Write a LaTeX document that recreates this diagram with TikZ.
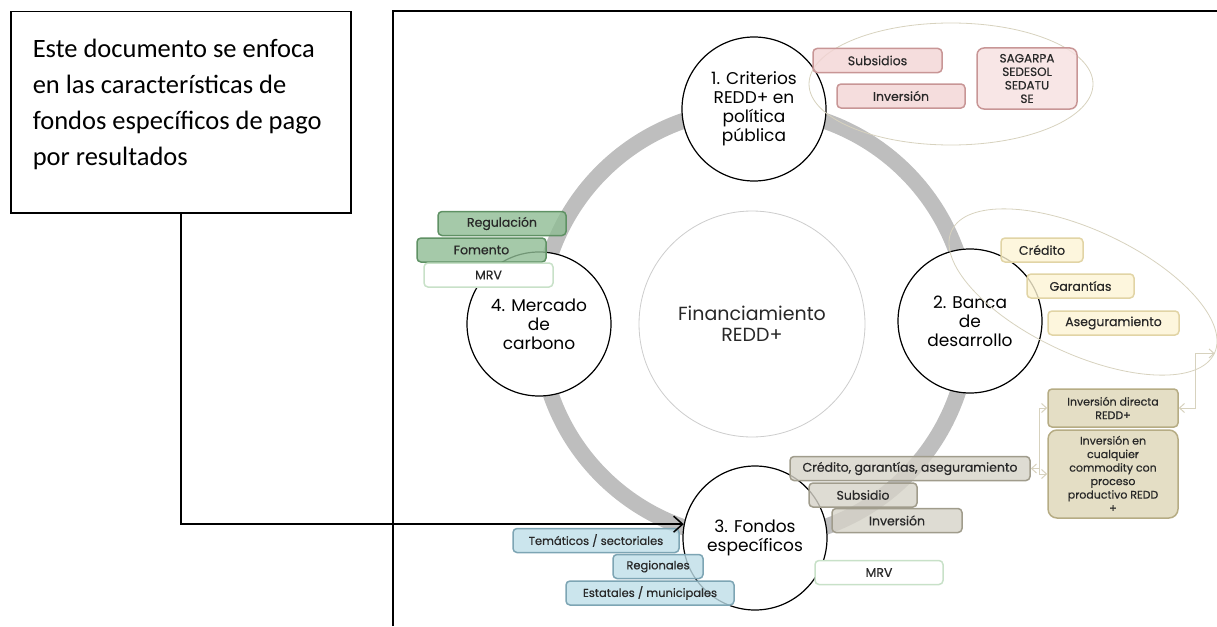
\documentclass[tikz,border=0pt]{standalone}
\usepackage{fontspec}
\setmainfont{Carlito}
\newfontfamily\gfont{Poppins}
\newfontfamily\gboxfont{Poppins}[FakeBold=0.5]
\usetikzlibrary{shapes.geometric,arrows.meta}
\definecolor{ringgray}{RGB}{190,190,190}
\definecolor{midgray}{RGB}{205,205,205}
\definecolor{ovalline}{RGB}{215,210,190}
\definecolor{tagtext}{RGB}{40,40,40}
\definecolor{pinkfill}{RGB}{242,212,212}
\definecolor{pinkline}{RGB}{200,150,150}
\definecolor{pinklite}{RGB}{246,224,224}
\definecolor{yelfill}{RGB}{253,244,212}
\definecolor{yelline}{RGB}{225,212,165}
\definecolor{khakifill}{RGB}{221,214,182}
\definecolor{khakiline}{RGB}{182,172,132}
\definecolor{grayfill}{RGB}{214,211,200}
\definecolor{grayline}{RGB}{160,156,140}
\definecolor{bluefill}{RGB}{190,222,232}
\definecolor{blueline}{RGB}{125,165,180}
\definecolor{greenfill}{RGB}{143,188,148}
\definecolor{greenline}{RGB}{95,145,100}
\definecolor{mrvline}{RGB}{200,225,200}
\tikzset{
  hub/.style={circle,draw=black,line width=1.2pt,fill=white,minimum size=144pt,
    inner sep=0pt,align=center,font=\gfont\fontsize{17}{19}\selectfont},
  tag/.style={rounded corners=4pt,line width=1.5pt,minimum height=24pt,inner sep=1pt,
    align=center,fill opacity=0.8,text opacity=1,text=tagtext,
    font=\gboxfont\fontsize{12.5}{14}\selectfont},
  pinktag/.style={tag,draw=pinkline,fill=pinkfill},
  yeltag/.style={tag,draw=yelline,fill=yelfill},
  khakitag/.style={tag,draw=khakiline,fill=khakifill,font=\gboxfont\fontsize{11}{13.5}\selectfont},
  graytag/.style={tag,draw=grayline,fill=grayfill},
  bluetag/.style={tag,draw=blueline,fill=bluefill,font=\gboxfont\fontsize{11.5}{14}\selectfont},
  greentag/.style={tag,draw=greenline,fill=greenfill},
  mrvtag/.style={tag,draw=mrvline,fill=white,fill opacity=1},
  oval/.style={ellipse,draw=ovalline,line width=0.8pt},
  conn/.style={draw=ovalline,line width=1pt}
}
\begin{document}
\begin{tikzpicture}[x=1pt,y=-1pt,>={Straight Barb[length=5pt,width=9pt]}]
\useasboundingbox (0,0) rectangle (1217,626);
% frame of the figure
\draw[line width=1.5pt] (393,626) -- (393,11) -- (1217,11);
% ring and the four hubs
\coordinate (ctr) at (754,324);
\draw[line width=16pt,ringgray] (ctr) circle (215pt);
\node[circle,draw=midgray,line width=0.8pt,fill=white,minimum size=226pt,align=center,
  text=tagtext,font=\gfont\fontsize{19}{21}\selectfont] (fin) at (752,324) {Financiamiento\\REDD+};
\node[hub] (crit) at (754,109) {1. Criterios\\REDD+ en\\política\\pública};
\node[hub] (banca) at (970,321) {2. Banca\\de\\desarrollo};
\node[hub] (fondos) at (755,538) {3. Fondos\\específicos};
\node[hub] (merc) at (539,324) {4. Mercado\\de\\carbono};
% ovals
\node[oval,minimum width=284pt,minimum height=122pt] (ovpub) at (951,84) {};
\node[oval,minimum width=290pt,minimum height=124pt,rotate=-25] (ovbank) at (1083,292) {};
% pink boxes
\foreach \n/\x/\y/\w/\t in {subs/877.5/60.5/129/Subsidios, invp/901/96/128/Inversión}
  \node[pinktag,minimum width=\w pt] (\n) at (\x,\y) {\t};
\node[pinktag,fill=pinklite,minimum width=100pt,minimum height=61pt,rounded corners=7pt,
  font=\gboxfont\fontsize{12}{13.5}\selectfont] (secr) at (1027,78.5) {SAGARPA\\SEDESOL\\SEDATU\\SE};
% yellow boxes
\foreach \n/\x/\y/\w/\t in {cred/1042/250/82/Crédito, gar/1080.5/286/107/Garantías,
    aseg/1113.5/323/131/Aseguramiento}
  \node[yeltag,minimum width=\w pt] (\n) at (\x,\y) {\t};
% khaki boxes
\node[khakitag,minimum width=130pt,minimum height=38pt] (dir) at (1113,408) {Inversión directa\\REDD+};
\node[khakitag,minimum width=130pt,minimum height=88pt,rounded corners=9pt] (comm) at (1113,474)
  {Inversión en\\cualquier\\commodity con\\proceso\\productivo REDD\\+};
% gray boxes
\foreach \n/\x/\y/\w/\t in {cga/910/468.5/240/{Crédito, garantías, aseguramiento},
    subf/863/495/108/Subsidio, invf/897/520.5/130/Inversión}
  \node[graytag,minimum width=\w pt] (\n) at (\x,\y) {\t};
\node[mrvtag,minimum width=128pt] (mrvf) at (879,572.5) {MRV};
% blue boxes
\foreach \n/\x/\y/\w/\t in {tema/596/540.5/166/{Temáticos / sectoriales},
    regi/658/566.5/90/Regionales, esta/650/593/168/{Estatales / municipales}}
  \node[bluetag,minimum width=\w pt] (\n) at (\x,\y) {\t};
% green boxes
\foreach \n/\x/\y/\w/\t in {regu/502/223.5/128/Regulación, fome/481.5/250/129/Fomento}
  \node[greentag,minimum width=\w pt] (\n) at (\x,\y) {\t};
\node[mrvtag,minimum width=129pt] (mrvm) at (488.5,275) {MRV};
% links between the boxes
\draw[conn,<->] (dir.east) -- ++(17,0) |- (ovbank.east);
\draw[conn,<-] (cga.east) -- ++(9,0) coordinate (fork);
\draw[conn,->] (fork) |- (dir.west);
\draw[conn,->] (fork) |- (comm.west);
% note box
\node[draw,line width=1.5pt,anchor=north west,minimum width=340pt,minimum height=201pt,inner sep=0pt]
  (note) at (10,11) {\parbox[c][201pt][t]{296pt}{\raggedright\fontsize{26.5}{36}\selectfont
  \vspace*{27pt}Este documento se enfoca\\en las características de\\fondos específicos de pago\\por resultados}};
\draw[line width=1.5pt,-{Straight Barb[length=9pt,width=16pt]}] (note.south) |- (fondos.169);
\end{tikzpicture}
\end{document}
